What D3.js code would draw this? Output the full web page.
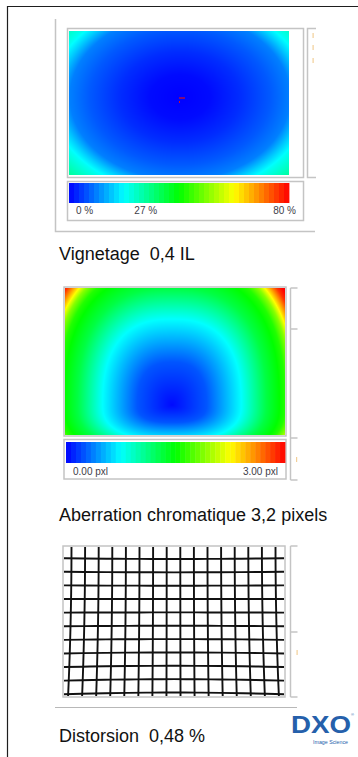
<!DOCTYPE html>
<html>
<head>
<meta charset="utf-8">
<script src="https://cdn.jsdelivr.net/npm/d3@7"></script>
<style>
  body { margin: 0; background: #fff; }
  svg { display: block; font-family: "Liberation Sans", Arial, sans-serif; }
</style>
</head>
<body>
<svg id="chart" width="358" height="757"></svg>
<script>
// ---- data ----
const colourStops = ["#0000ff", "#00ffff", "#00ff00", "#ffff00", "#ff0000"];
const colourBands = 44;

// vignetting: light loss (%) against distance from the optical centre (in half-widths)
const vignetteRadius = [0, 0.27, 0.55, 0.82, 1.0, 1.1, 1.19, 1.38];
const vignetteLoss = [0, 0.8, 3.5, 7, 10, 16, 21, 28];
const vignetteMax = 80;
const vignetteTicks = [0, 27, 80];
const vignetteTickLabels = ["0 %", "27 %", "80 %"];

// lateral chromatic aberration (pixels) against a squarish distance from its minimum
const caDistance = [0, 0.5, 1, 1.36, 1.55, 1.63, 1.72, 1.8, 1.9, 1.96];
const caPixels = [0.03, 0.25, 0.75, 1.3, 1.5, 1.6, 1.9, 2.35, 2.85, 3.0];
const caMax = 3;
const caTicks = [0, 3];
const caTickLabels = ["0.00 pxl", "3.00 pxl"];

// distortion chart: 16 vertical and 11 horizontal lines
const gridColumns = [0, 1, 2, 3, 4, 5, 6, 7, 8, 9, 10, 11, 12, 13, 14, 15];
const gridRows = [0, 1, 2, 3, 4, 5, 6, 7, 8, 9, 10];
const distortionFlare = 0.034;
const distortionSag = 0.02;

const titles = ["Vignetage  0,4 IL", "Aberration chromatique 3,2 pixels", "Distorsion  0,48 %"];

// ---- layout ----
const svg = d3.select("#chart");
const frameGrey = "#c4c4c4";

const jet = max => d3.scaleLinear()
  .domain(colourStops.map((c, i) => i / (colourStops.length - 1) * max))
  .range(colourStops)
  .clamp(true);

function drawField(box, valueAt, colour) {
  const canvas = document.createElement("canvas");
  canvas.width = box.w;
  canvas.height = box.h;
  const ctx = canvas.getContext("2d");
  const img = ctx.createImageData(box.w, box.h);
  for (let j = 0; j < box.h; j++) {
    for (let i = 0; i < box.w; i++) {
      const c = d3.rgb(colour(valueAt(i + 0.5, j + 0.5)));
      const k = (j * box.w + i) * 4;
      img.data[k] = c.r; img.data[k + 1] = c.g; img.data[k + 2] = c.b; img.data[k + 3] = 255;
    }
  }
  ctx.putImageData(img, 0, 0);
  svg.append("image")
    .attr("x", box.x).attr("y", box.y)
    .attr("width", box.w).attr("height", box.h)
    .attr("preserveAspectRatio", "none")
    .attr("href", canvas.toDataURL());
}

function drawColourBar(bar, max, ticks, labels, baseline) {
  const colour = jet(max);
  const x = d3.scaleLinear().domain([0, max]).range([bar.x, bar.x + bar.w]);
  const step = max / colourBands;
  svg.append("g").selectAll("rect")
    .data(d3.range(colourBands))
    .join("rect")
    .attr("x", i => x(i * step))
    .attr("y", bar.y)
    .attr("width", x(step) - x(0) + 0.4)
    .attr("height", bar.h)
    .attr("fill", i => colour((i + 0.5) * step));
  const anchors = ticks.map((t, i) => i === 0 ? "start" : (i === ticks.length - 1 ? "end" : "middle"));
  svg.append("g").selectAll("text")
    .data(ticks)
    .join("text")
    .attr("x", (t, i) => x(t) + (anchors[i] === "start" ? 7 : anchors[i] === "end" ? bar.endPad : 2.5))
    .attr("y", baseline)
    .attr("text-anchor", (t, i) => anchors[i])
    .style("font-size", "10px")
    .style("fill", "#3d3d48")
    .text((t, i) => labels[i]);
}

function box(x, y, w, h) {
  svg.append("rect")
    .attr("x", x).attr("y", y).attr("width", w).attr("height", h)
    .attr("fill", "#fff")
    .attr("stroke", frameGrey)
    .attr("stroke-width", 1.5);
}

function sideRuler(x, ticks) {
  svg.append("line")
    .attr("x1", x).attr("x2", x)
    .attr("y1", d3.min(ticks)).attr("y2", d3.max(ticks))
    .attr("stroke", frameGrey).attr("stroke-width", 1.5);
  svg.append("g").selectAll("line")
    .data(ticks)
    .join("line")
    .attr("x1", x).attr("x2", x + 7)
    .attr("y1", d => d).attr("y2", d => d)
    .attr("stroke", frameGrey).attr("stroke-width", 1.5);
}

function title(text, baseline) {
  svg.append("text")
    .attr("x", 59).attr("y", baseline)
    .style("font-size", "18px")
    .style("white-space", "pre")
    .style("fill", "#111")
    .text(text);
}

// outer frame
svg.append("path")
  .attr("d", "M7.5,757 V6.5 H358")
  .attr("fill", "none").attr("stroke", "#1e1e1e").attr("stroke-width", 1.2);

// ---- panel 1 : vignetting ----
svg.append("path")
  .attr("d", "M55.5,19 V231.5 H315")
  .attr("fill", "none").attr("stroke", frameGrey).attr("stroke-width", 1.5);
box(67.5, 28.5, 236, 149);
svg.append("path")
  .attr("d", "M316,28.5 H307.5 V177.5 H316")
  .attr("fill", "none").attr("stroke", frameGrey).attr("stroke-width", 1.5);
svg.append("g").selectAll("rect")
  .data([33, 45, 58])
  .join("rect")
  .attr("x", 312.5).attr("y", d => d).attr("width", 1.2).attr("height", 5)
  .attr("fill", "#f2cf98");

const vBox = { x: 69, y: 31, w: 220, h: 144 };
const vCentre = [111, 66];
const vAspect = 1.33;
const vProfile = d3.scaleLinear().domain(vignetteRadius).range(vignetteLoss).clamp(true);
const vColour = jet(vignetteMax);
drawField(vBox, (i, j) => {
  const dx = (i - vCentre[0]) / (vBox.w / 2);
  const dy = (j - vCentre[1]) * vAspect / (vBox.w / 2);
  return vProfile(Math.hypot(dx, dy));
}, vColour);
svg.append("line")
  .attr("x1", vBox.x + vCentre[0] - 1).attr("x2", vBox.x + vCentre[0] + 5)
  .attr("y1", vBox.y + vCentre[1] + 1).attr("y2", vBox.y + vCentre[1] + 1)
  .attr("stroke", "#c8102e").attr("stroke-width", 1.3);
svg.append("rect")
  .attr("x", vBox.x + vCentre[0] - 1).attr("y", vBox.y + vCentre[1] + 4)
  .attr("width", 1).attr("height", 2).attr("fill", "#c8102e");

box(67.5, 181.5, 236, 39);
drawColourBar({ x: 69, y: 183, w: 220, h: 20, endPad: 7 }, vignetteMax, vignetteTicks, vignetteTickLabels, 214);
title(titles[0], 260);

// ---- panel 2 : chromatic aberration ----
box(64, 287, 222, 149);
sideRuler(290.5, [288, 329, 438, 480]);
svg.append("rect").attr("x", 296).attr("y", 457).attr("width", 1.2).attr("height", 5).attr("fill", "#f2cf98");

const caBox = { x: 65, y: 288, w: 220, h: 147 };
const caCentre = [107, 117];
const caReach = { x: 0.63, up: 0.78, down: 0.32 };
const caPower = 2.5;
const caProfile = d3.scaleLinear().domain(caDistance).range(caPixels).clamp(true);
const caColour = jet(caMax);
drawField(caBox, (i, j) => {
  const half = caBox.w / 2;
  const dx = Math.abs(i - caCentre[0]) / half / caReach.x;
  const dyRaw = (j - caCentre[1]) / half;
  const dy = Math.abs(dyRaw) / (dyRaw < 0 ? caReach.up : caReach.down);
  const d = Math.pow(Math.pow(dx, caPower) + Math.pow(dy, caPower), 1 / caPower);
  return caProfile(d);
}, caColour);

box(64, 439.5, 222, 39.5);
drawColourBar({ x: 66, y: 442, w: 219, h: 21, endPad: -7 }, caMax, caTicks, caTickLabels, 475);
title(titles[1], 521);

// ---- panel 3 : distortion ----
box(63, 546, 222, 151);
sideRuler(290.5, [546, 632, 697]);
svg.append("rect").attr("x", 296.5).attr("y", 650).attr("width", 1.2).attr("height", 5).attr("fill", "#f2cf98");

const gBox = { x: 64, y: 547, w: 220, h: 149 };
svg.append("clipPath").attr("id", "gridClip")
  .append("rect").attr("x", gBox.x).attr("y", gBox.y).attr("width", gBox.w).attr("height", gBox.h);

const gx = d3.scaleLinear().domain([0, 15]).range([71.5, 275.5]);
const gy = d3.scaleLinear().domain([0, 10]).range([559, 692.5]);
const gCentre = [gBox.x + gBox.w / 2, 600];
const distort = ([x, y]) => {
  const t = (y - gBox.y) / gBox.h;
  const u = (x - gCentre[0]) / (gBox.w / 2);
  return [
    x + (x - gCentre[0]) * distortionFlare * t * t,
    y + (y - gCentre[1]) * distortionSag * u * u
  ];
};
const gridLine = d3.line().curve(d3.curveBasis);
const gGrid = svg.append("g").attr("clip-path", "url(#gridClip)")
  .attr("fill", "none").attr("stroke", "#111").attr("stroke-width", 1.9);
const ys = d3.range(0, 11).map(k => gBox.y - 2 + k * (gBox.h + 4) / 10);
const xs = d3.range(0, 11).map(k => gBox.x - 2 + k * (gBox.w + 4) / 10);
gGrid.selectAll(".v")
  .data(gridColumns)
  .join("path")
  .attr("class", "v")
  .attr("d", c => gridLine(ys.map(y => distort([gx(c), y]))));
gGrid.selectAll(".h")
  .data(gridRows)
  .join("path")
  .attr("class", "h")
  .attr("d", r => gridLine(xs.map(x => distort([x, gy(r)]))));

svg.append("line")
  .attr("x1", 55).attr("x2", 297)
  .attr("y1", 707.5).attr("y2", 707.5)
  .attr("stroke", "#b8b8b8").attr("stroke-width", 1.2);
title(titles[2], 742);

// DxO logo
const logo = svg.append("g").style("fill", "#2560ab");
logo.append("text")
  .attr("x", 291).attr("y", 733)
  .attr("textLength", 60).attr("lengthAdjust", "spacingAndGlyphs")
  .style("font-size", "23px")
  .style("font-weight", "bold")
  .text("DXO");
logo.append("text")
  .attr("x", 351).attr("y", 716)
  .style("font-size", "4px")
  .text("®");
logo.append("text")
  .attr("x", 313).attr("y", 744)
  .attr("textLength", 35).attr("lengthAdjust", "spacingAndGlyphs")
  .style("font-size", "5px")
  .text("Image Science");
</script>
</body>
</html>
